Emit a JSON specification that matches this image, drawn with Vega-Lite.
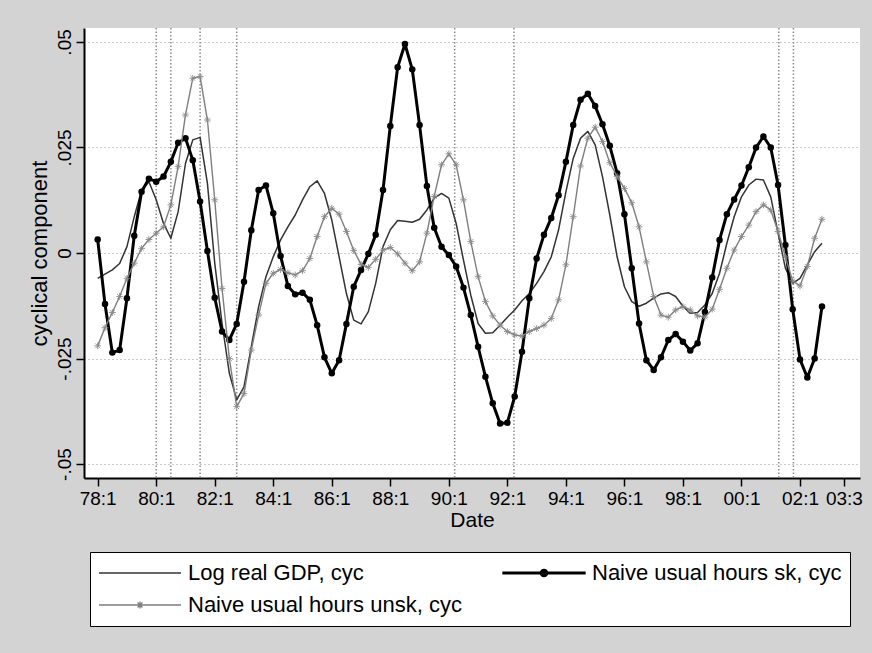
{
  "$schema": "https://vega.github.io/schema/vega-lite/v6.json",
  "width": 776,
  "height": 450,
  "autosize": {"type": "none"},
  "padding": {"left": 84, "top": 28, "right": 12, "bottom": 175},
  "background": "#d3d3d3",
  "config": {
    "view": {"fill": "white", "stroke": null},
    "font": "Liberation Sans",
    "axis": {
      "domainColor": "black", "domainWidth": 2, "tickColor": "black", "tickWidth": 1.5, "tickSize": 8,
      "labelFontSize": 19, "titleFontSize": 21, "labelColor": "black", "titleColor": "black",
      "titleFontWeight": "normal", "labelFont": "Liberation Sans", "titleFont": "Liberation Sans"
    }
  },
  "datasets": {
    "rec": [{"q": 8}, {"q": 10}, {"q": 14}, {"q": 19}, {"q": 48.8}, {"q": 56.9}, {"q": 93.1}, {"q": 95.1}],
    "series": [
      {"q": 0, "gdp": -0.0060, "sk": 0.0032, "unsk": -0.0220},
      {"q": 1, "gdp": -0.0050, "sk": -0.0121, "unsk": -0.0177},
      {"q": 2, "gdp": -0.0040, "sk": -0.0236, "unsk": -0.0141},
      {"q": 3, "gdp": -0.0025, "sk": -0.0230, "unsk": -0.0103},
      {"q": 4, "gdp": 0.0015, "sk": -0.0107, "unsk": -0.0060},
      {"q": 5, "gdp": 0.0086, "sk": 0.0041, "unsk": -0.0024},
      {"q": 6, "gdp": 0.0149, "sk": 0.0145, "unsk": 0.0011},
      {"q": 7, "gdp": 0.0169, "sk": 0.0176, "unsk": 0.0032},
      {"q": 8, "gdp": 0.0126, "sk": 0.0169, "unsk": 0.0047},
      {"q": 9, "gdp": 0.0070, "sk": 0.0181, "unsk": 0.0062},
      {"q": 10, "gdp": 0.0035, "sk": 0.0216, "unsk": 0.0114},
      {"q": 11, "gdp": 0.0098, "sk": 0.0261, "unsk": 0.0205},
      {"q": 12, "gdp": 0.0212, "sk": 0.0272, "unsk": 0.0327},
      {"q": 13, "gdp": 0.0268, "sk": 0.0220, "unsk": 0.0414},
      {"q": 14, "gdp": 0.0274, "sk": 0.0122, "unsk": 0.0418},
      {"q": 15, "gdp": 0.0165, "sk": 0.0005, "unsk": 0.0315},
      {"q": 16, "gdp": -0.0024, "sk": -0.0106, "unsk": 0.0126},
      {"q": 17, "gdp": -0.0167, "sk": -0.0186, "unsk": -0.0084},
      {"q": 18, "gdp": -0.0285, "sk": -0.0206, "unsk": -0.0250},
      {"q": 19, "gdp": -0.0348, "sk": -0.0168, "unsk": -0.0364},
      {"q": 20, "gdp": -0.0317, "sk": -0.0068, "unsk": -0.0333},
      {"q": 21, "gdp": -0.0222, "sk": 0.0054, "unsk": -0.0230},
      {"q": 22, "gdp": -0.0127, "sk": 0.0149, "unsk": -0.0147},
      {"q": 23, "gdp": -0.0056, "sk": 0.0160, "unsk": -0.0072},
      {"q": 24, "gdp": -0.0009, "sk": 0.0094, "unsk": -0.0048},
      {"q": 25, "gdp": 0.0031, "sk": -0.0007, "unsk": -0.0039},
      {"q": 26, "gdp": 0.0062, "sk": -0.0078, "unsk": -0.0047},
      {"q": 27, "gdp": 0.0090, "sk": -0.0098, "unsk": -0.0052},
      {"q": 28, "gdp": 0.0126, "sk": -0.0094, "unsk": -0.0042},
      {"q": 29, "gdp": 0.0157, "sk": -0.0111, "unsk": -0.0013},
      {"q": 30, "gdp": 0.0171, "sk": -0.0171, "unsk": 0.0039},
      {"q": 31, "gdp": 0.0141, "sk": -0.0247, "unsk": 0.0086},
      {"q": 32, "gdp": 0.0078, "sk": -0.0285, "unsk": 0.0106},
      {"q": 33, "gdp": -0.0009, "sk": -0.0254, "unsk": 0.0092},
      {"q": 34, "gdp": -0.0096, "sk": -0.0168, "unsk": 0.0051},
      {"q": 35, "gdp": -0.0159, "sk": -0.0080, "unsk": 0.0006},
      {"q": 36, "gdp": -0.0168, "sk": -0.0040, "unsk": -0.0027},
      {"q": 37, "gdp": -0.0139, "sk": -0.0002, "unsk": -0.0034},
      {"q": 38, "gdp": -0.0072, "sk": 0.0043, "unsk": -0.0015},
      {"q": 39, "gdp": 0.0015, "sk": 0.0149, "unsk": 0.0007},
      {"q": 40, "gdp": 0.0055, "sk": 0.0301, "unsk": 0.0013},
      {"q": 41, "gdp": 0.0077, "sk": 0.0440, "unsk": -0.0002},
      {"q": 42, "gdp": 0.0075, "sk": 0.0495, "unsk": -0.0024},
      {"q": 43, "gdp": 0.0073, "sk": 0.0435, "unsk": -0.0042},
      {"q": 44, "gdp": 0.0080, "sk": 0.0303, "unsk": -0.0021},
      {"q": 45, "gdp": 0.0102, "sk": 0.0159, "unsk": 0.0047},
      {"q": 46, "gdp": 0.0130, "sk": 0.0060, "unsk": 0.0134},
      {"q": 47, "gdp": 0.0141, "sk": 0.0015, "unsk": 0.0209},
      {"q": 48, "gdp": 0.0130, "sk": -0.0005, "unsk": 0.0235},
      {"q": 49, "gdp": 0.0070, "sk": -0.0032, "unsk": 0.0209},
      {"q": 50, "gdp": -0.0017, "sk": -0.0082, "unsk": 0.0126},
      {"q": 51, "gdp": -0.0100, "sk": -0.0147, "unsk": 0.0027},
      {"q": 52, "gdp": -0.0167, "sk": -0.0222, "unsk": -0.0056},
      {"q": 53, "gdp": -0.0190, "sk": -0.0293, "unsk": -0.0115},
      {"q": 54, "gdp": -0.0189, "sk": -0.0356, "unsk": -0.0149},
      {"q": 55, "gdp": -0.0171, "sk": -0.0404, "unsk": -0.0171},
      {"q": 56, "gdp": -0.0152, "sk": -0.0402, "unsk": -0.0186},
      {"q": 57, "gdp": -0.0135, "sk": -0.0340, "unsk": -0.0194},
      {"q": 58, "gdp": -0.0113, "sk": -0.0234, "unsk": -0.0197},
      {"q": 59, "gdp": -0.0096, "sk": -0.0107, "unsk": -0.0186},
      {"q": 60, "gdp": -0.0072, "sk": -0.0013, "unsk": -0.0179},
      {"q": 61, "gdp": -0.0044, "sk": 0.0043, "unsk": -0.0171},
      {"q": 62, "gdp": -0.0009, "sk": 0.0083, "unsk": -0.0155},
      {"q": 63, "gdp": 0.0055, "sk": 0.0137, "unsk": -0.0111},
      {"q": 64, "gdp": 0.0145, "sk": 0.0216, "unsk": -0.0028},
      {"q": 65, "gdp": 0.0224, "sk": 0.0303, "unsk": 0.0086},
      {"q": 66, "gdp": 0.0272, "sk": 0.0363, "unsk": 0.0206},
      {"q": 67, "gdp": 0.0288, "sk": 0.0377, "unsk": 0.0272},
      {"q": 68, "gdp": 0.0256, "sk": 0.0348, "unsk": 0.0298},
      {"q": 69, "gdp": 0.0181, "sk": 0.0305, "unsk": 0.0264},
      {"q": 70, "gdp": 0.0090, "sk": 0.0254, "unsk": 0.0214},
      {"q": 71, "gdp": -0.0009, "sk": 0.0189, "unsk": 0.0181},
      {"q": 72, "gdp": -0.0080, "sk": 0.0092, "unsk": 0.0153},
      {"q": 73, "gdp": -0.0115, "sk": -0.0036, "unsk": 0.0119},
      {"q": 74, "gdp": -0.0126, "sk": -0.0167, "unsk": 0.0062},
      {"q": 75, "gdp": -0.0119, "sk": -0.0254, "unsk": -0.0021},
      {"q": 76, "gdp": -0.0107, "sk": -0.0277, "unsk": -0.0103},
      {"q": 77, "gdp": -0.0097, "sk": -0.0247, "unsk": -0.0147},
      {"q": 78, "gdp": -0.0094, "sk": -0.0206, "unsk": -0.0152},
      {"q": 79, "gdp": -0.0103, "sk": -0.0192, "unsk": -0.0135},
      {"q": 80, "gdp": -0.0126, "sk": -0.0210, "unsk": -0.0127},
      {"q": 81, "gdp": -0.0143, "sk": -0.0231, "unsk": -0.0135},
      {"q": 82, "gdp": -0.0141, "sk": -0.0214, "unsk": -0.0149},
      {"q": 83, "gdp": -0.0123, "sk": -0.0140, "unsk": -0.0152},
      {"q": 84, "gdp": -0.0096, "sk": -0.0058, "unsk": -0.0133},
      {"q": 85, "gdp": -0.0048, "sk": 0.0031, "unsk": -0.0086},
      {"q": 86, "gdp": 0.0023, "sk": 0.0092, "unsk": -0.0036},
      {"q": 87, "gdp": 0.0086, "sk": 0.0127, "unsk": 0.0007},
      {"q": 88, "gdp": 0.0133, "sk": 0.0160, "unsk": 0.0039},
      {"q": 89, "gdp": 0.0161, "sk": 0.0203, "unsk": 0.0066},
      {"q": 90, "gdp": 0.0175, "sk": 0.0250, "unsk": 0.0098},
      {"q": 91, "gdp": 0.0173, "sk": 0.0276, "unsk": 0.0114},
      {"q": 92, "gdp": 0.0133, "sk": 0.0250, "unsk": 0.0102},
      {"q": 93, "gdp": 0.0047, "sk": 0.0161, "unsk": 0.0051},
      {"q": 94, "gdp": -0.0036, "sk": 0.0019, "unsk": -0.0009},
      {"q": 95, "gdp": -0.0072, "sk": -0.0133, "unsk": -0.0066},
      {"q": 96, "gdp": -0.0060, "sk": -0.0252, "unsk": -0.0078},
      {"q": 97, "gdp": -0.0028, "sk": -0.0295, "unsk": -0.0032},
      {"q": 98, "gdp": 0.0003, "sk": -0.0250, "unsk": 0.0035},
      {"q": 99, "gdp": 0.0023, "sk": -0.0127, "unsk": 0.0080}
    ]
  },
  "layer": [
    {
      "data": {"name": "rec"},
      "mark": {"type": "rule", "color": "#8c8c8c", "strokeDash": [1.5, 2], "strokeWidth": 1.5},
      "encoding": {
        "x": {"field": "q", "type": "quantitative", "scale": {"domain": [-1.87, 104.2], "nice": false, "zero": false},
          "axis": {"values": [0, 8, 16, 24, 32, 40, 48, 56, 64, 72, 80, 88, 96, 102],
            "labelExpr": "datum.value == 102 ? '03:3' : ['78:1','80:1','82:1','84:1','86:1','88:1','90:1','92:1','94:1','96:1','98:1','00:1','02:1'][round(datum.value / 8)]",
            "title": "Date", "grid": false, "labelPadding": 3, "titlePadding": 1, "labelFlush": false, "labelOverlap": false}}
      }
    },
    {
      "data": {"name": "series"},
      "transform": [{"fold": ["gdp", "sk", "unsk"], "as": ["series", "v"]}, {"filter": {"field": "series", "equal": "gdp"}}],
      "mark": {"type": "line", "strokeJoin": "round", "strokeWidth": 1.5},
      "encoding": {
        "x": {"field": "q", "type": "quantitative", "scale": {"domain": [-1.87, 104.2], "nice": false, "zero": false}},
        "y": {"field": "v", "type": "quantitative", "scale": {"domain": [-0.0533, 0.0533], "nice": false, "zero": false},
          "axis": {"values": [-0.05, -0.025, 0, 0.025, 0.05],
            "labelExpr": "datum.value == 0 ? '0' : datum.value > 0.04 ? '.05' : datum.value > 0 ? '.025' : datum.value > -0.04 ? '-.025' : '-.05'",
            "labelAngle": -90, "title": "cyclical component", "titleFontSize": 22, "grid": true, "gridDash": [1, 3], "gridColor": "#999999", "gridWidth": 1}},
        "color": {"field": "series", "type": "nominal",
          "scale": {"domain": ["gdp", "sk", "unsk"], "range": ["#333333", "#000000", "#7e7e7e"]},
          "legend": {
            "orient": "none", "legendX": 6, "legendY": 524, "title": null, "columns": 2, "direction": "horizontal",
            "columnPadding": 40, "rowPadding": 6, "padding": 8, "clipHeight": 26,
            "strokeColor": "black", "fillColor": "white", "cornerRadius": 0,
            "labelFontSize": 22, "labelFont": "Liberation Sans", "labelColor": "black", "labelLimit": 500, "labelOffset": 6,
            "symbolSize": 6724, "symbolStrokeWidth": 1.3, "symbolOffset": 0,
            "labelExpr": "datum.value == 'gdp' ? 'Log real GDP, cyc' : datum.value == 'sk' ? 'Naive usual hours sk, cyc' : 'Naive usual hours unsk, cyc'",
            "encode": {"symbols": {"update": {
              "shape": {"signal": "datum.value == 'sk' ? 'M-1,-0.018L1,-0.018L1,0.018L-1,0.018ZM-0.09,0A0.09,0.09,0,1,1,0.09,0A0.09,0.09,0,1,1,-0.09,0Z' : datum.value == 'unsk' ? 'M-1,0L1,0M-0.06,-0.06L0.06,0.06M-0.06,0.06L0.06,-0.06M0,-0.085L0,0.085' : 'M-1,0L1,0'"},
              "fill": {"signal": "datum.value == 'sk' ? 'black' : 'transparent'"}
            }}}
          }}
      }
    },
    {
      "data": {"name": "series"},
      "transform": [{"fold": ["gdp", "sk", "unsk"], "as": ["series", "v"]}, {"filter": {"field": "series", "equal": "sk"}}],
      "mark": {"type": "line", "strokeJoin": "round", "strokeWidth": 3},
      "encoding": {
        "x": {"field": "q", "type": "quantitative", "scale": {"domain": [-1.87, 104.2], "nice": false, "zero": false}},
        "y": {"field": "v", "type": "quantitative", "scale": {"domain": [-0.0533, 0.0533], "nice": false, "zero": false}},
        "color": {"field": "series", "type": "nominal", "scale": {"domain": ["gdp", "sk", "unsk"], "range": ["#333333", "#000000", "#7e7e7e"]}}
      }
    },
    {
      "data": {"name": "series"},
      "mark": {"type": "point", "shape": "circle", "filled": true, "color": "black", "size": 42, "opacity": 1},
      "encoding": {
        "x": {"field": "q", "type": "quantitative", "scale": {"domain": [-1.87, 104.2], "nice": false, "zero": false}},
        "y": {"field": "sk", "type": "quantitative", "scale": {"domain": [-0.0533, 0.0533], "nice": false, "zero": false}}
      }
    },
    {
      "data": {"name": "series"},
      "transform": [{"fold": ["gdp", "sk", "unsk"], "as": ["series", "v"]}, {"filter": {"field": "series", "equal": "unsk"}}],
      "mark": {"type": "line", "strokeJoin": "round", "strokeWidth": 1.4},
      "encoding": {
        "x": {"field": "q", "type": "quantitative", "scale": {"domain": [-1.87, 104.2], "nice": false, "zero": false}},
        "y": {"field": "v", "type": "quantitative", "scale": {"domain": [-0.0533, 0.0533], "nice": false, "zero": false}},
        "color": {"field": "series", "type": "nominal", "scale": {"domain": ["gdp", "sk", "unsk"], "range": ["#333333", "#000000", "#7e7e7e"]}}
      }
    },
    {
      "data": {"name": "series"},
      "mark": {"type": "point", "shape": "M-1,0L1,0M0,-1L0,1M-0.7,-0.7L0.7,0.7M-0.7,0.7L0.7,-0.7", "filled": false, "color": "#8a8a8a", "size": 46, "strokeWidth": 0.9, "opacity": 1},
      "encoding": {
        "x": {"field": "q", "type": "quantitative", "scale": {"domain": [-1.87, 104.2], "nice": false, "zero": false}},
        "y": {"field": "unsk", "type": "quantitative", "scale": {"domain": [-0.0533, 0.0533], "nice": false, "zero": false}}
      }
    }
  ]
}
